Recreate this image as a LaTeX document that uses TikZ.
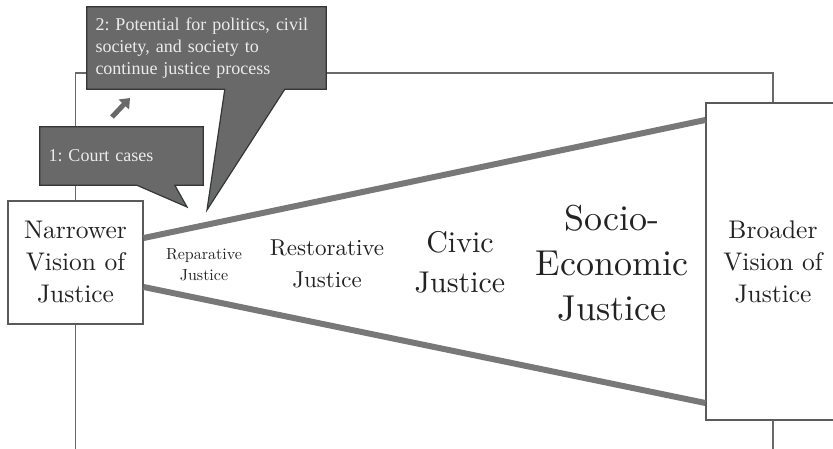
\documentclass[tikz,border=0pt]{standalone}
\usepackage{fontspec}
\newfontfamily\calloutfont{Liberation Serif}
\newfontfamily\labelfont{lmroman10-regular}[Extension=.otf]
\usetikzlibrary{positioning, calc, arrows.meta, backgrounds}
\definecolor{framegray}{RGB}{105,105,105}
\definecolor{funnelgray}{RGB}{120,120,120}
\definecolor{boxgray}{RGB}{90,90,90}
\definecolor{calloutfill}{RGB}{105,105,105}
\definecolor{calloutline}{RGB}{50,55,55}
\definecolor{labelgray}{RGB}{35,35,35}
\frenchspacing
\tikzset{
  visionbox/.style={draw=boxgray, line width=1.3pt, fill=white, rectangle, align=center, text=labelgray, font=\labelfont\fontsize{25.5}{32}\selectfont},
  stagelabel/.style={align=center, text=labelgray},
  callouttext/.style={rectangle, align=left, inner xsep=8.5pt, text=white!92!black, font=\calloutfont\fontsize{18}{22}\selectfont},
  calloutshape/.style={fill=calloutfill, draw=calloutline, line width=1.2pt, line join=miter},
  frameline/.style={draw=framegray, line width=1.5pt},
  funnel/.style={draw=funnelgray, line width=6pt},
}

\begin{document}
\begin{tikzpicture}[x=1pt, y=1pt]
\useasboundingbox (0,0) rectangle (833,449);
\coordinate (bottom) at (0,0);
\coordinate (topline) at (0,376);

\node[visionbox, minimum width=135, minimum height=123] (narrow) at (75.5,186.5) {Narrower\\Vision of\\Justice};
\node[visionbox, minimum width=134, minimum height=317] (broad) at (773,187.5) {Broader\\Vision of\\Justice};

\node[stagelabel, font=\labelfont\fontsize{16}{21}\selectfont] (repar) at (204,184.5) {Reparative\\Justice};
\node[stagelabel, font=\labelfont\fontsize{23}{32}\selectfont] (restor) at (327,185) {Restorative\\Justice};
\node[stagelabel, font=\labelfont\fontsize{30}{40}\selectfont] (civic) at (460,187) {Civic\\Justice};
\node[stagelabel, font=\labelfont\fontsize{36}{45}\selectfont] (socio) at (612,186) {Socio-\\Economic\\Justice};

\draw[funnel] ($(narrow.east)+(0,24.5)$) -- ($(broad.west)+(0,141.5)$);
\draw[funnel] ($(narrow.east)+(0,-24.5)$) -- ($(broad.west)+(0,-141.5)$);

\node[callouttext, minimum width=239, minimum height=82, text width=222] (potential) at (206.5,401) {2: Potential for politics, civil\\society, and society to\\continue justice process};
\node[callouttext, minimum width=163, minimum height=58, text width=146] (court) at (121.5,293) {1: Court cases};
\coordinate (tip2) at (207,239);
\coordinate (tip1) at (187,242);

\begin{pgfonlayer}{background}
\draw[frameline] (narrow.south) -- (narrow.south |- bottom);
\draw[frameline] (narrow.north) -- (narrow.north |- topline) -- (broad.north |- topline) -- (broad.north);
\draw[frameline] (broad.south) -- (broad.south |- bottom);
\draw[calloutshape] (potential.south west) -- (potential.north west) -- (potential.north east) -- (potential.south east)
  -- ($(potential.south west)+(198,0)$) -- (tip2) -- ($(potential.south west)+(138,0)$) -- cycle;
\draw[calloutshape] (court.south west) -- (court.north west) -- (court.north east) -- (court.south east)
  -- ($(court.south west)+(135,0)$) -- (tip1) -- ($(court.south west)+(97,0)$) -- cycle;
\end{pgfonlayer}

\coordinate (arrtail) at (112,332);
\coordinate (arrhead) at (130,351);
\draw[draw=calloutfill, line width=5pt, -{Triangle[length=9pt, width=14pt]}] (arrtail) -- (arrhead);
\end{tikzpicture}
\end{document}
